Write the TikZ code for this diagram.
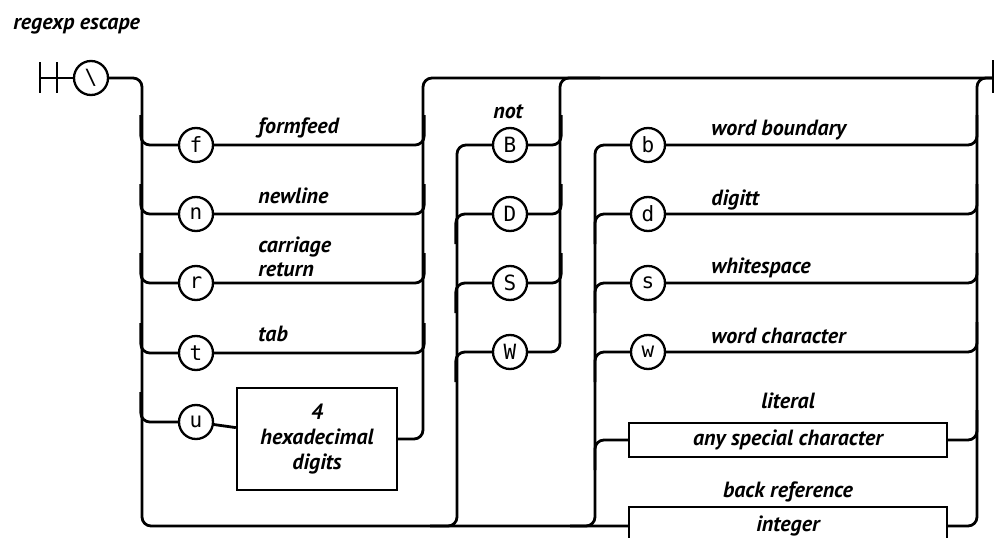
\documentclass[tikz,border=0pt]{standalone}
\usepackage{fontspec}
\usetikzlibrary{calc}
\setmainfont{PT Sans}
\newfontfamily\tokfont{DejaVu Sans Mono}
\begin{document}
\begin{tikzpicture}[x=1pt,y=-1pt,line width=2.8pt,
  rr/.style={rounded corners=9pt},
  tok/.style={circle,draw,line width=2.3pt,minimum size=34pt,inner sep=0pt,font=\tokfont\fontsize{21}{21}\selectfont},
  lbl/.style={inner sep=0pt,font=\bfseries\itshape\fontsize{22}{24}\selectfont},
  bx/.style={draw,line width=2.3pt,inner sep=0pt,font=\bfseries\itshape\fontsize{22}{25}\selectfont}]
\useasboundingbox (0,0) rectangle (1005,538);
\clip (0,0) rectangle (1005,538);
% title
\node[lbl,anchor=base west] (title) at (12,30) {regexp escape};
% start / end
\coordinate (s0) at (40,78);
\coordinate (e0) at (993,78);
\draw (40,62) -- (40,93);
\draw (57,62) -- (57,93);
\draw (993,60) -- (993,93);
% tokens
\node[tok] (esc) at (91,78) {\textbackslash};
\node[tok] (f) at (196,145) {f};
\node[tok] (n) at (196,214) {n};
\node[tok] (r) at (196,283) {r};
\node[tok] (t) at (196,353) {t};
\node[tok] (u) at (196,422) {u};
\node[bx,minimum width=160pt,minimum height=102pt,align=center] (hex) at (317,439) {4\\hexadecimal\\digits};
\node[tok] (B) at (510,145) {B};
\node[tok] (D) at (510,214) {D};
\node[tok] (S) at (510,283) {S};
\node[tok] (W) at (510,352) {W};
\node[tok] (b) at (648,145) {b};
\node[tok] (d) at (648,214) {d};
\node[tok] (s) at (648,283) {s};
\node[tok] (w) at (648,352) {w};
\node[bx,minimum width=318pt,minimum height=34pt] (lit) at (788,440) {any special character};
\node[bx,minimum width=318pt,minimum height=38pt] (int) at (788,526) {integer};
% labels
\node[lbl,anchor=base west] (lf) at (257,133) {formfeed};
\node[lbl,anchor=base west] (ln) at (257,203) {newline};
\node[lbl,anchor=south west,align=left] (lr) at (257,278) {carriage\\return};
\node[lbl,anchor=base west] (lt) at (257,341) {tab};
\node[lbl,anchor=base] (lnot) at (508,118) {not};
\node[lbl,anchor=base west] (lb) at (710,135) {word boundary};
\node[lbl,anchor=base west] (ld) at (710,205) {digitt};
\node[lbl,anchor=base west] (ls) at (710,273) {whitespace};
\node[lbl,anchor=base west] (lw) at (710,343) {word character};
\node[lbl,anchor=base] (llit) at (788,408) {literal};
\node[lbl,anchor=base] (lbr) at (788,497) {back reference};
% main line and first group
\draw (s0) -- (esc);
\draw[rr] (esc.east) -| (142,526) -- (int.west);
\foreach \k in {f,n,r,t,u} {
  \draw[rr] ($(\k.west)+(-37,-30)$) |- (\k.west);
}
\foreach \k in {f,n,r,t} {
  \draw[rr] (\k.east) -| ($(\k.east)+(210,-30)$);
}
\draw (u) -- (hex);
\draw[rr] (hex.east) -| (423,78) -- (e0);
% not group
\draw[rr] (430,526) -| (457,145) -- (B.west);
\foreach \k in {D,S,W} {
  \draw[rr] ($(\k.west)+(-36,30)$) |- (\k.west);
}
\foreach \k in {B,D,S} {
  \draw[rr] (\k.east) -| ($(\k.east)+(33,-30)$);
}
\draw[rr] (W.east) -| (560,78) -- (600,78);
% class group
\draw[rr] (570,526) -| (595,145) -- (b.west);
\foreach \k in {d,s,w,lit} {
  \draw[rr] ($(595,0 |- \k.west)+(0,30)$) |- (\k.west);
}
\foreach \k in {b,d,s,w,lit} {
  \draw[rr] (\k.east) -| ($(977,0 |- \k.east)+(0,-30)$);
}
\draw[rr] (int.east) -| (977,78) -- (e0);
\end{tikzpicture}
\end{document}
